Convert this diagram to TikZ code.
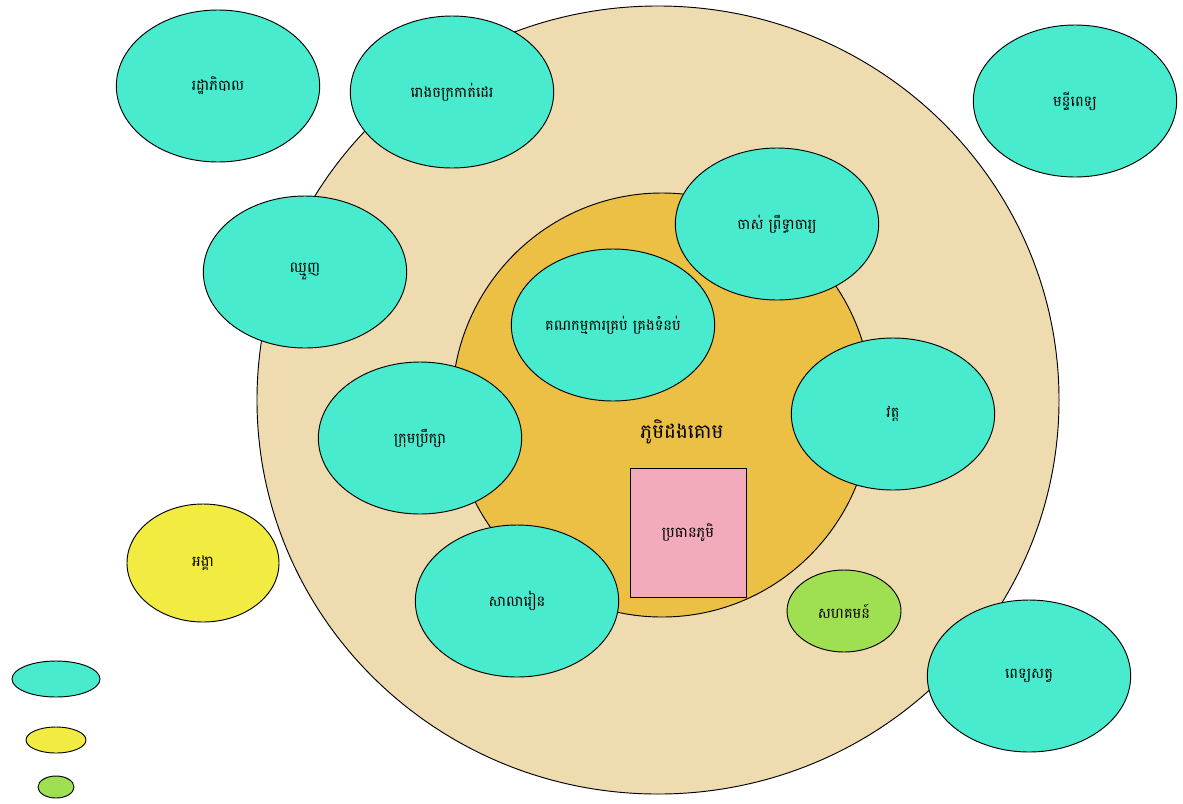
\documentclass[tikz,border=0pt]{standalone}
\usepackage{fontspec}
\newfontfamily\khmer[Script=Khmer]{Battambang}
\usetikzlibrary{shapes.geometric}
\definecolor{outerc}{HTML}{EEDBB0}
\definecolor{innerc}{HTML}{ECBF45}
\definecolor{tealc}{HTML}{48EBCD}
\definecolor{yellowc}{HTML}{F2EB42}
\definecolor{greenc}{HTML}{9FE052}
\definecolor{pinkc}{HTML}{F3AABA}

\begin{document}
\begin{tikzpicture}[x=0.03cm, y=-0.03cm]
		\tikzstyle{every node}=[inner sep=0pt, align=center, font=\khmer\fontsize{12.5}{14}\selectfont]
		\tikzstyle{actor}=[ellipse, draw, thick, fill=tealc, minimum width=6.1cm, minimum height=4.56cm]
		\useasboundingbox (0, 0) rectangle (1183, 803);
		% village rings
		\node[ellipse, draw, thick, fill=outerc, minimum width=24.06cm, minimum height=23.64cm] (outside) at (658, 400) {};
		\node[ellipse, draw, thick, fill=innerc, minimum width=12.6cm, minimum height=12.72cm] (village) at (662, 405) {};
		\node[font=\khmer\fontsize{17}{19}\selectfont] (name) at (682, 432) {ភូមិដងគោម};
		\node[draw, thick, fill=pinkc, minimum width=3.48cm, minimum height=3.87cm] (chief) at (688, 533) {ប្រធានភូមិ};
		% actors
		\node[actor] (gov) at (218, 86) {រដ្ឋាភិបាល};
		\node[actor] (factory) at (452, 92) {រោងចក្រកាត់ដេរ};
		\node[actor] (hospital) at (1075, 101) {មន្ទីពេទ្យ};
		\node[actor] (elders) at (777, 224) {ចាស់ ព្រឹទ្ធាចារ្យ};
		\node[actor] (trader) at (305, 272) {ឈ្មួញ};
		\node[actor] (dam) at (613, 325) {គណកម្មការគ្រប់ គ្រងទំនប់};
		\node[actor] (council) at (420, 438) {ក្រុមប្រឹក្សា};
		\node[actor] (pagoda) at (893, 414) {វត្ត};
		\node[actor] (school) at (517, 601) {សាលារៀន};
		\node[actor] (vet) at (1029, 676) {ពេទ្យសត្វ};
		\node[ellipse, draw, thick, fill=yellowc, minimum width=4.56cm, minimum height=3.54cm] (ngo) at (203, 563) {អង្គា};
		\node[ellipse, draw, thick, fill=greenc, minimum width=3.42cm, minimum height=2.46cm] (community) at (844, 611) {សហគមន៍};
		% legend
		\node[ellipse, draw, thick, fill=tealc, minimum width=2.64cm, minimum height=1.08cm] (keybig) at (56, 679) {};
		\node[ellipse, draw, thick, fill=yellowc, minimum width=1.8cm, minimum height=0.78cm] (keymid) at (56, 740) {};
		\node[ellipse, draw, thick, fill=greenc, minimum width=1.08cm, minimum height=0.66cm] (keysmall) at (56, 787) {};
\end{tikzpicture}
\end{document}
